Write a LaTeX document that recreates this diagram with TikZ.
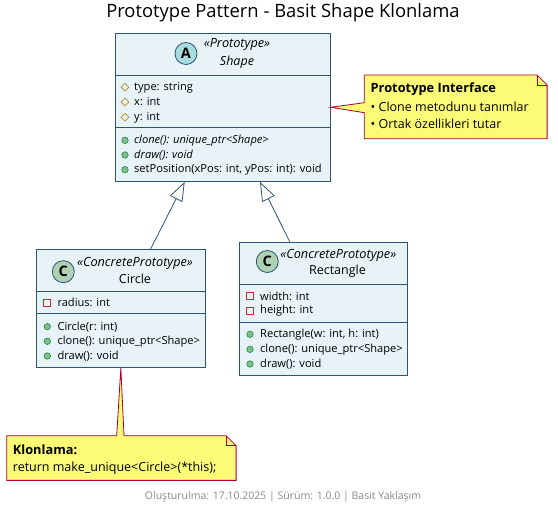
\documentclass[tikz,border=0pt]{standalone}
\usepackage{fontspec}
\setmainfont{Open Sans}
\usetikzlibrary{arrows.meta, positioning, shapes.geometric}

\definecolor{boxfill}{RGB}{232,243,248}
\definecolor{boxline}{RGB}{44,84,118}
\definecolor{abstractfill}{RGB}{169,220,223}
\definecolor{classfill}{RGB}{173,209,178}
\definecolor{notefill}{RGB}{251,251,119}
\definecolor{noteline}{RGB}{168,0,54}
\definecolor{protline}{RGB}{179,141,34}
\definecolor{privline}{RGB}{200,41,48}
\definecolor{pubfill}{RGB}{132,190,132}
\definecolor{publine}{RGB}{3,128,72}
\definecolor{footgray}{RGB}{136,136,136}

\begin{document}
\begin{tikzpicture}[
  x=1pt, y=-1pt,
  font=\fontsize{11.1}{13}\selectfont,
  cls/.style={draw=boxline, fill=boxfill, line width=1pt, inner sep=0pt, anchor=north west},
  sep/.style={draw=boxline, line width=1pt},
  badge/.style={circle, draw=boxline, line width=0.8pt, minimum size=22pt, inner sep=0pt, font=\bfseries\fontsize{14.5}{14}\selectfont},
  stereo/.style={font=\itshape\fontsize{12.7}{14}\selectfont, inner sep=0pt},
  cname/.style={font=\fontsize{12.5}{14}\selectfont, inner sep=0pt},
  mem/.style={anchor=west, inner sep=0pt},
  prot/.style={diamond, draw=protline, line width=0.7pt, minimum size=8pt, inner sep=0pt},
  priv/.style={rectangle, draw=privline, line width=0.7pt, minimum size=7pt, inner sep=0pt},
  pub/.style={circle, draw=publine, fill=pubfill, line width=0.5pt, minimum size=6.5pt, inner sep=0pt},
  inh/.style={draw=boxline, line width=0.8pt, -{Triangle[open, length=19pt, width=14pt]}},
  notebox/.style={draw=noteline, fill=notefill, line width=0.8pt},
  ntext/.style={anchor=west, inner sep=0pt, font=\fontsize{12.5}{14}\selectfont}
]
\useasboundingbox (0,0) rectangle (558,513);

\node[font=\fontsize{18.4}{21}\selectfont] (title) at (283,13) {Prototype Pattern - Basit Shape Klonlama};

\node[cls, minimum width=215pt, minimum height=148.3pt] (shape) at (114.7,32.7) {};
\draw[sep] (shape.west |- 0,75.7) -- (shape.east |- 0,75.7);
\draw[sep] (shape.west |- 0,128) -- (shape.east |- 0,128);
\node[badge, fill=abstractfill] (shapebadge) at (186,53.5) {A};
\node[stereo] (shapestereo) at (237,44.7) {«Prototype»};
\node[cname, font=\itshape\fontsize{12.5}{14}\selectfont] (shapename) at (237,62) {Shape};
\foreach \y/\txt [count=\i] in {87.3/type: string, 102/x: int, 117.3/y: int} {
  \node[prot] (shape-ai\i) at (125,\y) {};
  \node[mem] (shape-a\i) at (134,\y) {\txt};
}
\foreach \y/\txt [count=\i] in {140.3/\itshape clone(): unique\_ptr<Shape>, 155/\itshape draw(): void, {169.7/setPosition(xPos: int, yPos: int): void}} {
  \node[pub] (shape-mi\i) at (125,\y) {};
  \node[mem] (shape-m\i) at (134,\y) {\txt};
}

\node[cls, minimum width=169.3pt, minimum height=117.4pt] (circle) at (35.7,249.3) {};
\draw[sep] (circle.west |- 0,291.7) -- (circle.east |- 0,291.7);
\draw[sep] (circle.west |- 0,314) -- (circle.east |- 0,314);
\node[badge, fill=classfill] (circlebadge) at (63.3,271.7) {C};
\node[stereo] (circlestereo) at (135,263.3) {«ConcretePrototype»};
\node[cname] (circlename) at (135,278.5) {Circle};
\node[priv] (circle-ai1) at (47.3,302.7) {};
\node[mem] (circle-a1) at (57.3,302.7) {radius: int};
\foreach \y/\txt [count=\i] in {326.7/Circle(r: int), 341.3/clone(): unique\_ptr<Shape>, 356/draw(): void} {
  \node[pub] (circle-mi\i) at (47.3,\y) {};
  \node[mem] (circle-m\i) at (57.3,\y) {\txt};
}

\node[cls, minimum width=167.7pt, minimum height=133.3pt] (rect) at (239,241.7) {};
\draw[sep] (rect.west |- 0,284.3) -- (rect.east |- 0,284.3);
\draw[sep] (rect.west |- 0,322.7) -- (rect.east |- 0,322.7);
\node[badge, fill=classfill] (rectbadge) at (267.3,261.5) {C};
\node[stereo] (rectstereo) at (338.3,255.7) {«ConcretePrototype»};
\node[cname] (rectname) at (337.5,271) {Rectangle};
\foreach \y/\txt [count=\i] in {296/width: int, 311/height: int} {
  \node[priv] (rect-ai\i) at (250,\y) {};
  \node[mem] (rect-a\i) at (260,\y) {\txt};
}
\foreach \y/\txt [count=\i] in {334.3/{Rectangle(w: int, h: int)}, 349.3/clone(): unique\_ptr<Shape>, 364/draw(): void} {
  \node[pub] (rect-mi\i) at (250,\y) {};
  \node[mem] (rect-m\i) at (260,\y) {\txt};
}

\draw[inh] ([xshift=29.6pt]circle.north) -- ([xshift=-38pt]shape.south);
\draw[inh] ([xshift=-33.6pt]rect.north) -- ([xshift=37.3pt]shape.south);

\node[anchor=north west, minimum width=182.4pt, minimum height=63.3pt, inner sep=0pt] (ifnote) at (364.3,75) {};
\draw[notebox] (shape.east |- 0,107.3) -- (ifnote.west |- 0,102.7) -- (ifnote.north west)
  -- ([xshift=-10pt]ifnote.north east) -- ([yshift=-10pt]ifnote.north east) -- (ifnote.south east)
  -- (ifnote.south west) -- (ifnote.west |- 0,112.7) -- cycle;
\draw[draw=noteline, line width=0.8pt] ([xshift=-10pt]ifnote.north east) -- ([xshift=-10pt, yshift=-10pt]ifnote.north east) -- ([yshift=-10pt]ifnote.north east);
\node[ntext, font=\bfseries\fontsize{12.8}{14}\selectfont] (ifnote-t) at (370.5,89.3) {Prototype Interface};
\node[ntext] (ifnote-l1) at (370.5,107.3) {• Clone metodunu tanımlar};
\node[ntext] (ifnote-l2) at (370.5,124.3) {• Ortak özellikleri tutar};

\node[anchor=north west, minimum width=229pt, minimum height=44.3pt, inner sep=0pt] (klnote) at (6.7,435.7) {};
\draw[notebox] (circle.south) -- (124,435.7) -- ([xshift=-10pt]klnote.north east) -- ([yshift=-10pt]klnote.north east)
  -- (klnote.south east) -- (klnote.south west) -- (klnote.north west) -- (116.7,435.7) -- cycle;
\draw[draw=noteline, line width=0.8pt] ([xshift=-10pt]klnote.north east) -- ([xshift=-10pt, yshift=-10pt]klnote.north east) -- ([yshift=-10pt]klnote.north east);
\node[ntext, font=\bfseries\fontsize{12.8}{14}\selectfont] (klnote-t) at (12.7,449.3) {Klonlama:};
\node[ntext] (klnote-l1) at (12.7,468.3) {return make\_unique<Circle>(*this);};

\node[font=\fontsize{10.5}{12}\selectfont, text=footgray] (footer) at (283,496.5) {Oluşturulma: 17.10.2025 | Sürüm: 1.0.0 | Basit Yaklaşım};
\end{tikzpicture}
\end{document}
